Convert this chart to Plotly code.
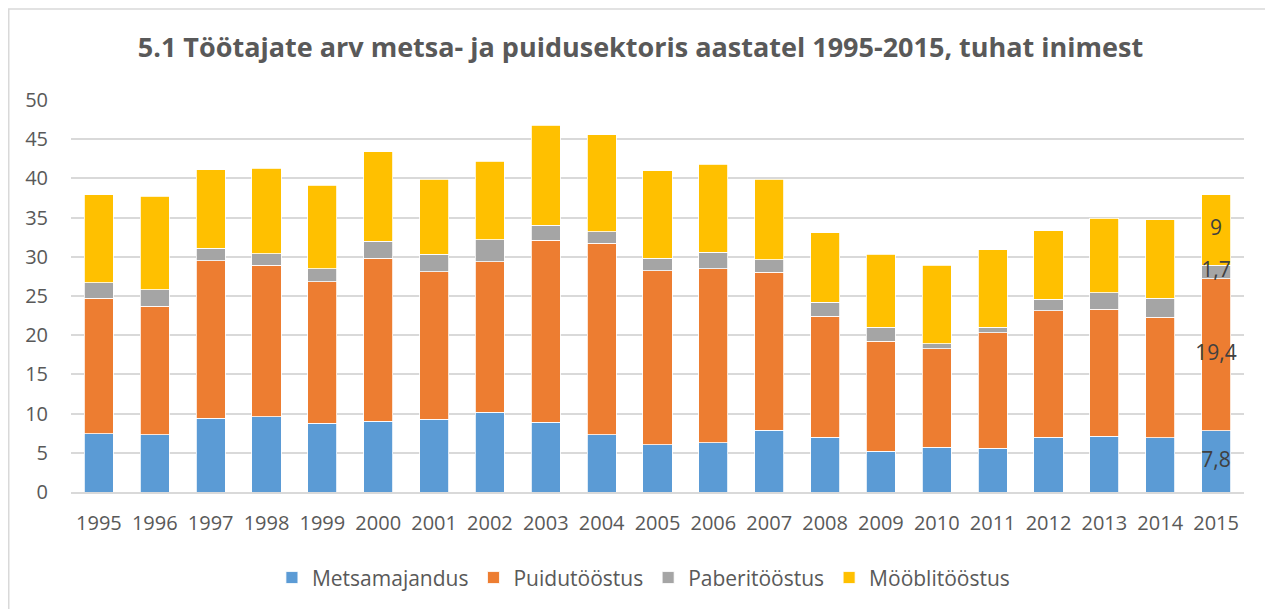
import plotly.graph_objects as go

years = [str(y) for y in range(1995, 2016)]
metsamajandus = [7.4, 7.3, 9.4, 9.6, 8.8, 9.0, 9.3, 10.2, 8.9, 7.3, 6.0,
                 6.3, 7.9, 7.0, 5.2, 5.7, 5.6, 7.0, 7.1, 6.9, 7.8]
puidutoostus = [17.3, 16.4, 20.1, 19.3, 18.0, 20.8, 18.8, 19.2, 23.2, 24.4, 22.2,
                22.2, 20.1, 15.4, 14.0, 12.6, 14.7, 16.1, 16.2, 15.4, 19.4]
paberitoostus = [2.0, 2.1, 1.6, 1.5, 1.7, 2.2, 2.2, 2.8, 1.9, 1.5, 1.6,
                 2.1, 1.6, 1.8, 1.8, 0.6, 0.7, 1.5, 2.1, 2.4, 1.7]
mooblitoostus = [11.2, 11.9, 10.0, 10.9, 10.6, 11.4, 9.6, 10.0, 12.8, 12.4, 11.2,
                 11.2, 10.3, 8.9, 9.3, 10.0, 9.9, 8.7, 9.5, 10.0, 9.0]

series = [
    ("Metsamajandus", metsamajandus, "#5B9BD5"),
    ("Puidutööstus", puidutoostus, "#ED7D31"),
    ("Paberitööstus", paberitoostus, "#A5A5A5"),
    ("Mööblitööstus", mooblitoostus, "#FFC000"),
]


def label(v):
    # Excel style decimal comma
    return ("%g" % v).replace(".", ",")


W, H = 1265, 601   # page body has an 8px margin
L, T = 63, 92
PW, PH = 1173, 393

fig = go.Figure()
for name, vals, col in series:
    fig.add_trace(go.Bar(
        x=years, y=vals, name=name,
        marker=dict(color=col, line=dict(color="white", width=0.8)),
    ))

# data labels of the last year, on top of all segments
lab_y, lab_t = [], []
base = 0
for name, vals, col in series:
    lab_y.append(base + vals[-1] / 2)
    lab_t.append(label(vals[-1]))
    base += vals[-1]
fig.add_trace(go.Scatter(
    x=[years[-1]] * len(lab_y), y=lab_y, text=lab_t, mode="text",
    textposition="middle center", showlegend=False, hoverinfo="skip",
    textfont=dict(color="#404040", size=21, family="Open Sans"),
))

fig.update_layout(
    barmode="stack",
    bargap=0.48,
    width=W, height=H,
    margin=dict(l=L, r=W - L - PW, t=T, b=H - T - PH),
    paper_bgcolor="white", plot_bgcolor="white",
    font=dict(family="Open Sans", color="#595959", size=20),
    title=dict(text="<b>5.1 Töötajate arv metsa- ja puidusektoris aastatel 1995-2015, tuhat inimest</b>",
               x=0.5, xanchor="center", y=1 - 40 / H, yanchor="middle",
               font=dict(size=27, color="#595959", family="Open Sans")),
    legend=dict(orientation="h", x=0.488, xanchor="center", y=-0.216, yanchor="middle",
                font=dict(size=21, color="#595959"), traceorder="normal"),
    showlegend=True,
)
fig.update_xaxes(range=[-0.5, len(years) - 0.5], showgrid=False, showline=True,
                 linecolor="#d9d9d9", linewidth=1.5,
                 ticks="", ticklabelstandoff=12, tickfont=dict(size=20, color="#595959"))
fig.update_yaxes(range=[0, 50], dtick=5, showgrid=True, gridcolor="#d9d9d9", gridwidth=1.5,
                 zeroline=False, ticks="", ticklabelstandoff=22,
                 tickfont=dict(size=20, color="#595959"))

# outer chart border
fig.add_shape(type="rect", xref="paper", yref="paper",
              x0=(0.75 - L) / PW, x1=(W - 2 - L) / PW,
              y0=-(H + 10 - T - PH) / PH, y1=1 + (T - 0.75) / PH,
              line=dict(color="#d9d9d9", width=1.5), fillcolor="rgba(0,0,0,0)", layer="above")

fig.write_html("out.html")
